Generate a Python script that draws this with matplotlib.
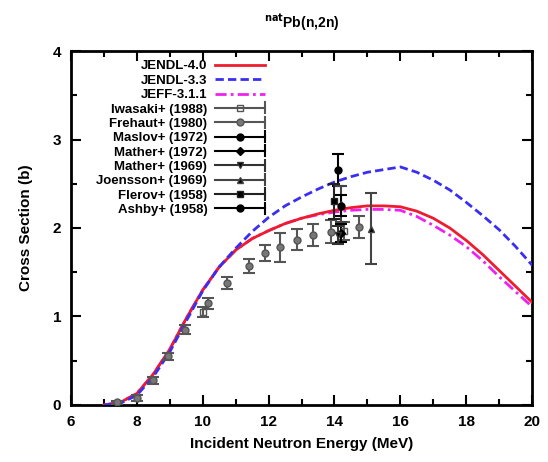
import numpy as np
import matplotlib
matplotlib.use("Agg")
from matplotlib import pyplot as plt
from matplotlib.ticker import MultipleLocator
from matplotlib.lines import Line2D
from matplotlib.legend_handler import HandlerBase

plt.rcParams['font.family'] = ['Liberation Sans', 'DejaVu Sans']

# evaluated curves (MeV, barn)
e_eval = [7.0, 7.5, 8.0, 8.5, 9.0, 9.5, 10.0, 10.5, 11.0, 11.5, 12.0, 12.5, 13.0,
          13.5, 14.0, 14.5, 15.0, 15.5, 16.0, 16.5, 17.0, 17.5, 18.0, 18.5, 19.0, 19.5, 20.0]
jendl40 = [0.0, 0.03, 0.13, 0.35, 0.63, 0.98, 1.30, 1.56, 1.75, 1.88, 1.97, 2.05, 2.11,
           2.16, 2.20, 2.23, 2.25, 2.25, 2.24, 2.19, 2.11, 2.00, 1.86, 1.70, 1.52, 1.34, 1.16]
jendl33 = [0.0, 0.02, 0.11, 0.32, 0.60, 0.95, 1.29, 1.56, 1.77, 1.96, 2.12, 2.25, 2.35,
           2.44, 2.52, 2.58, 2.63, 2.66, 2.69, 2.63, 2.54, 2.43, 2.29, 2.14, 1.98, 1.79, 1.58]
jeff311 = [0.0, 0.03, 0.13, 0.35, 0.63, 0.98, 1.30, 1.56, 1.75, 1.88, 1.97, 2.05, 2.11,
           2.15, 2.18, 2.20, 2.21, 2.21, 2.20, 2.13, 2.03, 1.92, 1.79, 1.63, 1.45, 1.28, 1.11]

# experimental data: energy, xs, error
iwasaki_e = [10.0, 14.3]
iwasaki_y = [1.05, 1.97]
iwasaki_err = [0.06, 0.10]

frehaut_e = [7.4, 8.0, 8.5, 8.95, 9.45, 10.15, 10.75, 11.4, 11.9, 12.35, 12.85, 13.35, 13.9, 14.75]
frehaut_y = [0.03, 0.08, 0.28, 0.55, 0.85, 1.15, 1.38, 1.57, 1.72, 1.78, 1.87, 1.92, 1.96, 2.01]
frehaut_err = [0.02, 0.03, 0.04, 0.04, 0.05, 0.06, 0.07, 0.08, 0.09, 0.16, 0.12, 0.12, 0.13, 0.12]

maslov_e = [14.1]
maslov_y = [2.66]
maslov_err = [0.18]

mather72_e = [14.2]
mather72_y = [1.94]
mather72_err = [0.10]

mather69_e = [14.1]
mather69_y = [1.92]
mather69_err = [0.10]

joensson_e = [14.2, 15.1]
joensson_y = [2.27, 1.99]
joensson_err = [0.20, 0.40]

flerov_e = [14.0]
flerov_y = [2.30]
flerov_err = [0.20]

ashby_e = [14.2]
ashby_y = [2.25]
ashby_err = [0.12]


class HandlerGnuErr(HandlerBase):
    # gnuplot-like key: horizontal line, marker in the middle, cap at the right end
    def create_artists(self, legend, orig, xdescent, ydescent, width, height, fontsize, trans):
        data_line = orig.lines[0]
        col = data_line.get_markeredgecolor()
        y = height / 2.0 - ydescent
        x0, x1 = -xdescent, width - xdescent
        ln = Line2D([x0, x1], [y, y], color=col, lw=1.5, transform=trans)
        cap = Line2D([x1, x1], [y - 4, y + 4], color=col, lw=1.5, transform=trans)
        mk = Line2D([(x0 + x1) / 2], [y], marker=data_line.get_marker(),
                    ms=data_line.get_markersize(), mfc=data_line.get_markerfacecolor(),
                    mec=col, ls='none', transform=trans)
        return [ln, cap, mk]


fig = plt.figure(figsize=(5.48, 4.62), dpi=100)
ax = fig.add_axes([0.1296, 0.1234, 0.8414, 0.7662])

ax.plot(e_eval, jendl40, color='#ee1c2e', lw=2, label='JENDL-4.0', zorder=3)
ax.plot(e_eval, jendl33, color='#3a2ef0', lw=2, ls=(0, (3, 1.5)), label='JENDL-3.3', zorder=3)
ax.plot(e_eval, jeff311, color='#ee22ee', lw=2, ls=(0, (4, 1.5, 1, 1.5)), label='JEFF-3.1.1', zorder=2)

exp_sets = [
    (iwasaki_e, iwasaki_y, iwasaki_err, 's', 'none', '#555555', 'Iwasaki+ (1988)'),
    (frehaut_e, frehaut_y, frehaut_err, 'o', '#777777', '#555555', 'Frehaut+ (1980)'),
    (maslov_e, maslov_y, maslov_err, 'o', 'black', 'black', 'Maslov+ (1972)'),
    (mather72_e, mather72_y, mather72_err, 'D', 'black', 'black', 'Mather+ (1972)'),
    (mather69_e, mather69_y, mather69_err, 'v', 'black', '#333333', 'Mather+ (1969)'),
    (joensson_e, joensson_y, joensson_err, '^', 'black', '#444444', 'Joensson+ (1969)'),
    (flerov_e, flerov_y, flerov_err, 's', 'black', '#222222', 'Flerov+ (1958)'),
    (ashby_e, ashby_y, ashby_err, 'o', 'black', 'black', 'Ashby+ (1958)'),
]
containers = []
for xe, ye, er, mk, fc, col, lab in exp_sets:
    c = ax.errorbar(xe, ye, yerr=er, fmt=mk, ms=5 if mk != 'D' else 4, mfc=fc, mec=col,
                    ecolor=col, color=col, elinewidth=1.5, capsize=4, capthick=1.5,
                    label=lab, zorder=4)
    containers.append(c)

ax.set_xlim(6, 20)
ax.set_ylim(0, 4)
ax.xaxis.set_major_locator(MultipleLocator(2))
ax.xaxis.set_minor_locator(MultipleLocator(1))
ax.yaxis.set_major_locator(MultipleLocator(1))
ax.yaxis.set_minor_locator(MultipleLocator(0.5))
ax.tick_params(which='both', direction='in', top=True, right=True, width=1.5)
ax.tick_params(which='major', length=7, labelsize=11, pad=7)
ax.tick_params(which='minor', length=4)
for lab in ax.get_xticklabels() + ax.get_yticklabels():
    lab.set_fontweight('bold')
for sp in ax.spines.values():
    sp.set_linewidth(2)

ax.set_xlabel('Incident Neutron Energy (MeV)', fontsize=11, fontweight='bold', labelpad=6)
ax.set_ylabel('Cross Section (b)', fontsize=11, fontweight='bold', labelpad=14)
ax.set_title('$^{\\mathbf{nat}}$Pb(n,2n)', fontsize=10, fontweight='bold', pad=17)

handler = HandlerGnuErr()
leg = ax.legend(loc='upper left', bbox_to_anchor=(0.035, 1.0), markerfirst=False,
                frameon=False, fontsize=9.5, handlelength=3.8, labelspacing=0.16,
                handletextpad=0.6, borderaxespad=0.3,
                handler_map={c: handler for c in containers})
for t in leg.get_texts():
    t.set_fontweight('bold')

fig.savefig('out.png', dpi=100)
